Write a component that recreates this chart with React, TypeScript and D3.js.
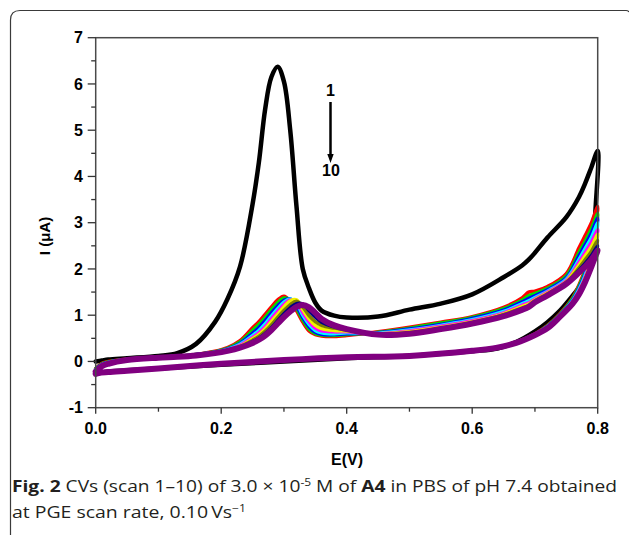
import React from 'react';
import * as d3 from 'd3';

// potential grid (V) for the forward (anodic) and reverse sweeps
const fwdE = [0, 0.01, 0.02, 0.05, 0.1, 0.13, 0.16, 0.19, 0.21, 0.23, 0.25, 0.26, 0.27, 0.28, 0.29, 0.3, 0.31, 0.32, 0.33, 0.34, 0.35, 0.36, 0.38, 0.4, 0.45, 0.5, 0.55, 0.6, 0.65, 0.68, 0.69, 0.7, 0.72, 0.75, 0.77, 0.78, 0.79, 0.8];
const revE = [0.8, 0.797, 0.79, 0.78, 0.77, 0.76, 0.74, 0.72, 0.7, 0.67, 0.64, 0.6, 0.5, 0.4, 0.3, 0.2, 0.1, 0.05, 0.02, 0.005, 0];

// current (µA) per scan
const scan1F = [0.0, 0.02, 0.04, 0.07, 0.12, 0.18, 0.38, 0.85, 1.35, 2.05, 3.4, 4.3, 5.45, 6.15, 6.37, 6.05, 5.0, 3.35, 2.0, 1.58, 1.27, 1.1, 0.99, 0.95, 0.97, 1.12, 1.25, 1.45, 1.82, 2.08, 2.2, 2.35, 2.68, 3.12, 3.55, 3.85, 4.2, 4.55];
const scan1R = [4.55, 3.4, 2.3, 1.8, 1.6, 1.42, 1.1, 0.85, 0.65, 0.42, 0.28, 0.22, 0.12, 0.07, 0.0, -0.07, -0.15, -0.19, -0.22, -0.24, -0.25];
const scan2F = [-0.15, -0.04, 0.0, 0.05, 0.09, 0.11, 0.15, 0.22, 0.3, 0.45, 0.73, 0.86, 1.02, 1.18, 1.33, 1.41, 1.3, 1.1, 0.85, 0.66, 0.58, 0.55, 0.54, 0.56, 0.64, 0.74, 0.85, 0.97, 1.17, 1.38, 1.5, 1.52, 1.62, 1.9, 2.45, 2.72, 3.0, 3.35];
const scan2R = [3.35, 3.0, 2.5, 2.0, 1.65, 1.38, 1.04, 0.78, 0.6, 0.42, 0.31, 0.24, 0.13, 0.09, 0.03, -0.05, -0.15, -0.2, -0.23, -0.25, -0.26];
const scan3F = [-0.16, -0.05, -0.01, 0.05, 0.09, 0.11, 0.15, 0.21, 0.28, 0.42, 0.67, 0.8, 0.95, 1.12, 1.27, 1.37, 1.33, 1.15, 0.9, 0.7, 0.6, 0.57, 0.56, 0.58, 0.63, 0.72, 0.83, 0.95, 1.14, 1.33, 1.42, 1.47, 1.58, 1.85, 2.35, 2.6, 2.87, 3.2];
const scan3R = [3.2, 2.9, 2.42, 1.95, 1.62, 1.36, 1.02, 0.77, 0.59, 0.41, 0.3, 0.23, 0.12, 0.09, 0.03, -0.05, -0.15, -0.2, -0.23, -0.25, -0.26];
const scan4F = [-0.17, -0.06, -0.02, 0.04, 0.09, 0.11, 0.15, 0.2, 0.27, 0.39, 0.61, 0.73, 0.88, 1.05, 1.2, 1.32, 1.35, 1.2, 0.95, 0.75, 0.63, 0.59, 0.58, 0.6, 0.62, 0.7, 0.8, 0.93, 1.11, 1.29, 1.36, 1.42, 1.55, 1.81, 2.28, 2.52, 2.78, 3.1];
const scan4R = [3.1, 2.8, 2.35, 1.9, 1.58, 1.33, 1.01, 0.76, 0.59, 0.41, 0.3, 0.23, 0.12, 0.09, 0.03, -0.05, -0.15, -0.2, -0.23, -0.25, -0.26];
const scan5F = [-0.18, -0.07, -0.02, 0.04, 0.09, 0.11, 0.14, 0.2, 0.26, 0.37, 0.56, 0.67, 0.81, 0.98, 1.14, 1.28, 1.35, 1.25, 1.0, 0.8, 0.67, 0.62, 0.6, 0.62, 0.61, 0.68, 0.78, 0.9, 1.08, 1.25, 1.31, 1.38, 1.52, 1.78, 2.2, 2.44, 2.68, 3.0];
const scan5R = [3.0, 2.72, 2.3, 1.86, 1.55, 1.31, 1.0, 0.75, 0.58, 0.41, 0.3, 0.23, 0.12, 0.09, 0.03, -0.05, -0.15, -0.2, -0.23, -0.25, -0.26];
const scan6F = [-0.19, -0.07, -0.03, 0.04, 0.09, 0.1, 0.14, 0.19, 0.25, 0.35, 0.52, 0.62, 0.75, 0.92, 1.08, 1.23, 1.33, 1.28, 1.06, 0.86, 0.72, 0.66, 0.64, 0.64, 0.6, 0.66, 0.76, 0.88, 1.05, 1.22, 1.27, 1.35, 1.5, 1.75, 2.14, 2.35, 2.58, 2.85];
const scan6R = [2.85, 2.62, 2.22, 1.82, 1.52, 1.29, 0.99, 0.74, 0.58, 0.4, 0.3, 0.23, 0.12, 0.09, 0.03, -0.05, -0.15, -0.2, -0.23, -0.25, -0.26];
const scan7F = [-0.2, -0.08, -0.03, 0.03, 0.08, 0.1, 0.14, 0.19, 0.24, 0.33, 0.49, 0.58, 0.7, 0.86, 1.02, 1.18, 1.31, 1.33, 1.12, 0.92, 0.78, 0.71, 0.67, 0.66, 0.6, 0.64, 0.74, 0.86, 1.03, 1.19, 1.24, 1.33, 1.48, 1.73, 2.08, 2.28, 2.48, 2.75];
const scan7R = [2.75, 2.55, 2.17, 1.79, 1.5, 1.28, 0.98, 0.73, 0.57, 0.4, 0.3, 0.23, 0.12, 0.09, 0.03, -0.05, -0.15, -0.2, -0.23, -0.25, -0.26];
const scan8F = [-0.2, -0.09, -0.04, 0.03, 0.08, 0.1, 0.13, 0.19, 0.24, 0.32, 0.46, 0.54, 0.65, 0.79, 0.95, 1.1, 1.23, 1.3, 1.18, 0.99, 0.86, 0.78, 0.72, 0.68, 0.59, 0.62, 0.72, 0.84, 1.01, 1.16, 1.21, 1.31, 1.46, 1.71, 2.02, 2.2, 2.38, 2.62];
const scan8R = [2.62, 2.45, 2.12, 1.76, 1.48, 1.27, 0.98, 0.73, 0.57, 0.4, 0.3, 0.23, 0.12, 0.09, 0.03, -0.05, -0.15, -0.2, -0.23, -0.25, -0.27];
const scan9F = [-0.21, -0.09, -0.04, 0.03, 0.08, 0.1, 0.13, 0.18, 0.23, 0.31, 0.43, 0.5, 0.6, 0.73, 0.88, 1.03, 1.16, 1.25, 1.24, 1.1, 0.96, 0.85, 0.75, 0.69, 0.58, 0.61, 0.71, 0.83, 0.99, 1.14, 1.19, 1.29, 1.44, 1.69, 1.97, 2.12, 2.29, 2.5];
const scan9R = [2.5, 2.36, 2.08, 1.74, 1.46, 1.26, 0.97, 0.72, 0.57, 0.4, 0.3, 0.23, 0.12, 0.09, 0.03, -0.05, -0.15, -0.2, -0.23, -0.25, -0.27];
const scan10F = [-0.22, -0.1, -0.05, 0.03, 0.08, 0.1, 0.13, 0.18, 0.23, 0.3, 0.4, 0.47, 0.56, 0.68, 0.82, 0.96, 1.08, 1.18, 1.22, 1.17, 1.05, 0.92, 0.78, 0.7, 0.58, 0.6, 0.7, 0.82, 0.98, 1.12, 1.18, 1.28, 1.43, 1.68, 1.92, 2.05, 2.2, 2.4];
const scan10R = [2.4, 2.3, 2.05, 1.72, 1.45, 1.25, 0.97, 0.72, 0.57, 0.4, 0.3, 0.23, 0.12, 0.09, 0.03, -0.05, -0.15, -0.2, -0.23, -0.25, -0.27];

const scanColors = ['#000000', '#ff0000', '#00e000', '#0000ff', '#00ffff', '#ff00ff', '#f0f000', '#808000', '#000080', '#800080'];
const scanWidths = [4.5, 3.5, 3.5, 3.5, 3.5, 3.5, 3.5, 3.5, 3.5, 6];
const forward = [scan1F, scan2F, scan3F, scan4F, scan5F, scan6F, scan7F, scan8F, scan9F, scan10F];
const reverse = [scan1R, scan2R, scan3R, scan4R, scan5R, scan6R, scan7R, scan8R, scan9R, scan10R];

const xTicks = [0, 0.2, 0.4, 0.6, 0.8];
const xMinor = [0.1, 0.3, 0.5, 0.7];
const yTicks = [-1, 0, 1, 2, 3, 4, 5, 6, 7];
const yMinor = [-0.5, 0.5, 1.5, 2.5, 3.5, 4.5, 5.5, 6.5];

const W = 629;
const H = 535;
const left = 95.7, right = 597.7, top = 37.7, bottom = 407.7;

export default function App() {
  const x = d3.scaleLinear().domain([0, 0.8]).range([left, right]);
  const y = d3.scaleLinear().domain([-1, 7]).range([bottom, top]);

  const line = d3.line<[number, number]>()
    .x(d => x(d[0]))
    .y(d => y(d[1]))
    .curve(d3.curveCatmullRom.alpha(0.5));

  const paths = forward.map((f, i) => {
    const pts: [number, number][] = [
      ...fwdE.map((e, j) => [e, f[j]] as [number, number]),
      ...revE.slice(1).map((e, j) => [e, reverse[i][j + 1]] as [number, number]),
    ];
    return { d: line(pts) || '', color: scanColors[i], w: scanWidths[i] };
  });

  const bold = { fontFamily: 'Liberation Sans, Arial, sans-serif', fontWeight: 700 };
  const cap = { fontFamily: 'Open Sans, sans-serif', fontSize: 16, fill: '#231f20' };

  return (
    <svg width={W} height={H} style={{ position: 'absolute', left: 0, top: 0, background: '#fff' }}>
      {/* card outline */}
      <path d="M10.5,535 V20 Q10.5,10.5 20,10.5 H626 Q628,10.5 629,12" fill="none" stroke="#3a3a3a" strokeWidth={1.2} />

      {/* curves */}
      <g fill="none" strokeLinejoin="round" strokeLinecap="round">
        {paths.map((p, i) => (
          <path key={i} d={p.d} stroke={p.color} strokeWidth={p.w} />
        ))}
      </g>

      {/* frame */}
      <rect x={left} y={top} width={right - left} height={bottom - top} fill="none" stroke="#4a4a4a" strokeWidth={1.5} />

      {/* y axis ticks */}
      {yTicks.map(t => (
        <g key={'y' + t}>
          <line x1={left - 8} x2={left} y1={y(t)} y2={y(t)} stroke="#333" strokeWidth={1.3} />
          <text x={83} y={y(t)} dy="0.36em" textAnchor="end" fontSize={16} {...bold}>{t}</text>
        </g>
      ))}
      {yMinor.map(t => (
        <line key={'ym' + t} x1={left - 4.5} x2={left} y1={y(t)} y2={y(t)} stroke="#333" strokeWidth={1.3} />
      ))}

      {/* x axis ticks */}
      {xTicks.map(t => (
        <g key={'x' + t}>
          <line x1={x(t)} x2={x(t)} y1={bottom} y2={bottom + 6} stroke="#333" strokeWidth={1.3} />
          <text x={x(t)} y={434} textAnchor="middle" fontSize={16} {...bold}>{d3.format('.1f')(t)}</text>
        </g>
      ))}
      {xMinor.map(t => (
        <line key={'xm' + t} x1={x(t)} x2={x(t)} y1={bottom} y2={bottom + 4} stroke="#333" strokeWidth={1.3} />
      ))}

      {/* axis titles */}
      <text x={347} y={465} textAnchor="middle" fontSize={16} {...bold}>E(V)</text>
      <text transform="translate(50,236) rotate(-90)" textAnchor="middle" fontSize={15} {...bold}>I (μA)</text>

      {/* scan arrow */}
      <text x={330.5} y={96} textAnchor="middle" fontSize={16} {...bold}>1</text>
      <line x1={330.5} x2={330.5} y1={102} y2={156} stroke="#000" strokeWidth={2.5} />
      <path d="M327.3,154 L333.7,154 L330.5,163 Z" fill="#000" />
      <text x={331} y={176} textAnchor="middle" fontSize={16} {...bold}>10</text>

      {/* caption */}
      <text x={12} y={492} textLength={605} lengthAdjust="spacingAndGlyphs" {...cap}>
        <tspan fontWeight={700}>Fig. 2</tspan>
        <tspan>{'  CVs (scan 1–10) of 3.0 × 10'}</tspan>
        <tspan fontSize={10} dy={-6}>-5</tspan>
        <tspan dy={6}>{' M of '}</tspan>
        <tspan fontWeight={700}>A4</tspan>
        <tspan>{' in PBS of pH 7.4 obtained'}</tspan>
      </text>
      <text x={12} y={518} textLength={234} lengthAdjust="spacingAndGlyphs" {...cap}>
        <tspan>{'at PGE scan rate, 0.10\u2009Vs'}</tspan>
        <tspan fontSize={10} dy={-6}>−1</tspan>
      </text>
    </svg>
  );
}
